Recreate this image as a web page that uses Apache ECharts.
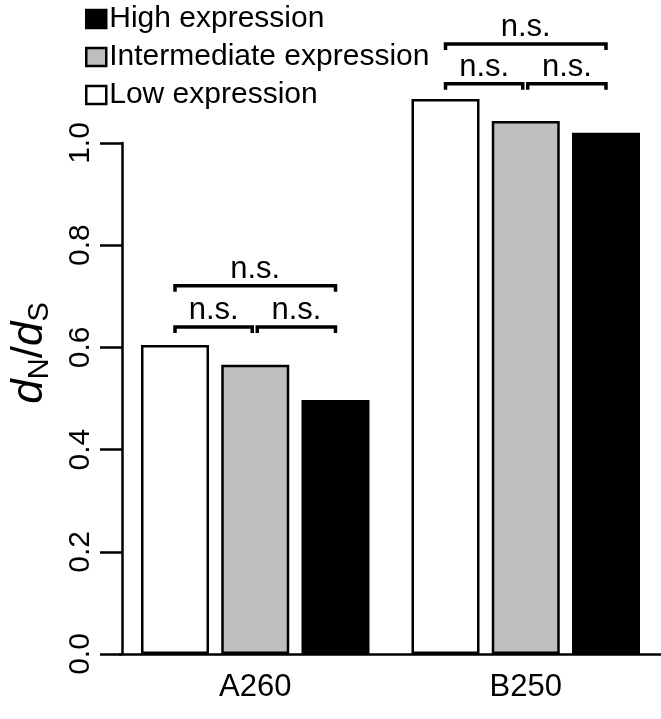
<!DOCTYPE html>
<html>
<head>
<meta charset="utf-8">
<script src="https://cdn.jsdelivr.net/npm/echarts@6/dist/echarts.min.js"></script>
<style>
  html, body { margin: 0; padding: 0; background: #fff; }
  #chart { width: 661px; height: 719px; }
</style>
</head>
<body>
<div id="chart"></div>
<script>
// data
const categories = ["A260", "B250"];
const lowValues = [0.606, 1.088];
const midValues = [0.567, 1.045];
const highValues = [0.498, 1.022];
const legendOrder = ["High expression", "Intermediate expression", "Low expression"];
// [category, from bar, to bar, height]
const brackets = [
  [0, 0, 2, 0.722], [0, 0, 1, 0.641], [0, 1, 2, 0.641],
  [1, 0, 2, 1.196], [1, 0, 1, 1.118], [1, 1, 2, 1.118]
];
const bracketLabel = "n.s.";

const font = "Liberation Sans, Arial, Helvetica, sans-serif";
const barW = 68;
const barGapPct = 18;
const step = barW + barW * barGapPct / 100;

const chart = echarts.init(document.getElementById("chart"));

const option = {
  animation: false,
  textStyle: { fontFamily: font, color: "#000" },
  legend: {
    data: legendOrder,
    orient: "vertical",
    left: 80,
    top: -1,
    icon: "rect",
    itemWidth: 20,
    itemHeight: 18,
    itemGap: 8,
    itemStyle: { borderWidth: 2.5 },
    textStyle: { fontSize: 30, color: "#000", fontFamily: font, padding: [0, 0, 0, -2] }
  },
  grid: [
    { left: 122, right: -7, top: 143, bottom: 65 },
    { left: 120, width: 548, top: 42, bottom: 65 }
  ],
  xAxis: [
    { gridIndex: 0, type: "category", data: categories, show: false },
    {
      gridIndex: 1,
      type: "category",
      data: categories,
      axisLine: { lineStyle: { color: "#000", width: 2.5 } },
      axisTick: { show: false },
      axisLabel: { fontSize: 31, color: "#000", margin: 18, fontFamily: font }
    }
  ],
  yAxis: [
    {
      gridIndex: 0,
      type: "value",
      min: 0,
      max: 1,
      interval: 0.2,
      axisLine: { show: true, lineStyle: { color: "#000", width: 2.5 } },
      axisTick: { show: true, length: 22, lineStyle: { color: "#000", width: 2.5 } },
      axisLabel: {
        rotate: 90,
        margin: 26,
        fontSize: 30,
        color: "#000",
        fontFamily: font,
        formatter: v => v.toFixed(1)
      },
      splitLine: { show: false }
    },
    { gridIndex: 1, type: "value", min: 0, max: 1.2, show: false }
  ],
  graphic: [
    {
      type: "text",
      x: 30,
      y: 353,
      rotation: Math.PI / 2,
      style: {
        text: "{i|d}{s|N}{n|/}{i|d}{s|S}",
        align: "center",
        verticalAlign: "middle",
        rich: {
          i: { fontSize: 44, fontStyle: "italic", fontFamily: font, fill: "#000" },
          n: { fontSize: 44, fontFamily: font, fill: "#000" },
          s: { fontSize: 29, fontFamily: font, fill: "#000", verticalAlign: "bottom", padding: [19, 0, 0, 0] }
        }
      }
    }
  ],
  series: [
    {
      name: "Low expression",
      type: "bar",
      xAxisIndex: 1,
      yAxisIndex: 1,
      data: lowValues,
      barWidth: barW,
      barGap: barGapPct + "%",
      itemStyle: { color: "#ffffff", borderColor: "#000", borderWidth: 2.5 }
    },
    {
      name: "Intermediate expression",
      type: "bar",
      xAxisIndex: 1,
      yAxisIndex: 1,
      data: midValues,
      barWidth: barW,
      barGap: barGapPct + "%",
      itemStyle: { color: "#bebebe", borderColor: "#000", borderWidth: 2.5 }
    },
    {
      name: "High expression",
      type: "bar",
      xAxisIndex: 1,
      yAxisIndex: 1,
      data: highValues,
      barWidth: barW,
      barGap: barGapPct + "%",
      itemStyle: { color: "#000", borderColor: "#000", borderWidth: 2.5 }
    },
    {
      // significance brackets
      type: "custom",
      xAxisIndex: 1,
      yAxisIndex: 1,
      data: brackets,
      clip: false,
      z: 5,
      renderItem: function (params, api) {
        const c = api.coord([api.value(0), api.value(3)]);
        const from = api.value(1), to = api.value(2);
        let x1 = c[0] + (from - 1) * step;
        let x2 = c[0] + (to - 1) * step;
        if (from === 1) x1 += 2;
        if (to === 1) x2 -= 3;
        const y = c[1];
        return {
          type: "group",
          children: [
            {
              type: "polyline",
              shape: { points: [[x1, y + 6], [x1, y], [x2, y], [x2, y + 6]] },
              style: { stroke: "#000", lineWidth: 3.5, fill: null }
            },
            {
              type: "text",
              x: (x1 + x2) / 2,
              y: y - 1,
              style: {
                text: bracketLabel,
                align: "center",
                verticalAlign: "bottom",
                fontSize: 31,
                fontFamily: font,
                fill: "#000"
              }
            }
          ]
        };
      }
    }
  ]
};

chart.setOption(option);
</script>
</body>
</html>
